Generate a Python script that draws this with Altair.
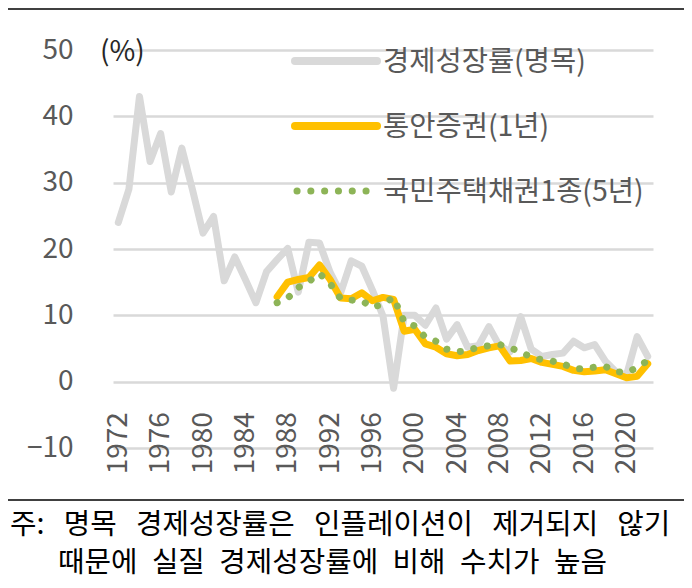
import altair as alt
import pandas as pd

years = list(range(1972, 2023))
nominal_growth = [24.0, 29.0, 43.0, 33.2, 37.4, 28.6, 35.2, 29.0, 22.4, 24.9,
                  15.2, 18.8, 15.4, 11.9, 16.6, 18.4, 20.1, 13.5, 21.0, 20.9,
                  16.5, 13.4, 18.2, 17.4, 13.8, 9.9, -1.0, 10.0, 10.0, 8.5,
                  11.1, 6.4, 8.6, 5.2, 5.4, 8.3, 5.4, 4.5, 9.8, 4.9,
                  3.8, 4.1, 4.3, 6.1, 5.1, 5.6, 3.1, 1.5, 1.0, 6.8, 3.8]
bond_years = list(range(1987, 2023))
msb_1y = [12.8, 15.0, 15.4, 15.7, 17.6, 15.4, 12.6, 12.5, 13.4, 12.2,
          12.7, 12.4, 7.6, 7.9, 5.7, 5.2, 4.2, 3.9, 4.1, 4.7,
          5.1, 5.4, 3.1, 3.2, 3.5, 2.9, 2.6, 2.3, 1.7, 1.5,
          1.6, 1.8, 1.2, 0.6, 0.8, 2.7]
housing_5y = [11.9, 12.6, 14.2, 15.1, 16.3, 14.8, 12.5, 12.3, 12.2, 11.2,
              11.7, 12.7, 9.0, 8.4, 6.7, 6.1, 4.9, 4.5, 4.7, 5.2,
              5.4, 5.6, 5.1, 4.5, 3.7, 3.3, 3.1, 2.7, 2.0, 1.9,
              2.2, 2.3, 1.5, 1.4, 2.1, 3.2]
series_names = ["경제성장률(명목)", "통안증권(1년)", "국민주택채권1종(5년)"]
x_tick_years = list(range(1972, 2021, 4))
y_ticks = [-10, 0, 10, 20, 30, 40, 50]
unit_label = "(%)"
gap1 = "\u2002\u2006"
gap2 = "\u2002"
note_line1 = gap1.join(["주:", "명목", "경제성장률은", "인플레이션이", "제거되지", "않기"])
note_line2 = gap2.join(["때문에", "실질", "경제성장률에", "비해", "수치가", "높음"])

FONT = "Noto Sans CJK KR"
GRAY = "#D9D9D9"
ORANGE = "#FFC000"
GREEN = "#8DB457"
LABEL = "#595959"
DOT_DASH = [0.1, 13.7]

df_nom = pd.DataFrame({"year": years, "value": nominal_growth})
df_msb = pd.DataFrame({"year": bond_years, "value": msb_1y})
df_house = pd.DataFrame({"year": bond_years, "value": housing_5y})

x_enc = alt.X("year:Q",
              scale=alt.Scale(domain=[1971.5, 2022.5], nice=False, zero=False),
              axis=alt.Axis(values=x_tick_years, format="d", labelAngle=270,
                            labelFontSize=28, labelColor=LABEL, labelFont=FONT,
                            domain=False, ticks=False, grid=False,
                            offset=-66.33, labelPadding=30, title=None,
                            labelOverlap=False, labelFlush=False))
y_enc = alt.Y("value:Q",
              scale=alt.Scale(domain=[-10, 50], nice=False, zero=False),
              axis=alt.Axis(values=y_ticks, labelFontSize=28, labelColor=LABEL,
                            labelFont=FONT, domain=False, ticks=False,
                            grid=True, gridColor=GRAY, gridWidth=2.5,
                            labelPadding=40, title=None))

line_nom = alt.Chart(df_nom).mark_line(color=GRAY, strokeWidth=7, strokeCap="round",
                                       strokeJoin="round").encode(x=x_enc, y=y_enc)
line_msb = alt.Chart(df_msb).mark_line(color=ORANGE, strokeWidth=7, strokeCap="round",
                                       strokeJoin="round").encode(x="year:Q", y="value:Q")
line_house = alt.Chart(df_house).mark_line(color=GREEN, strokeWidth=7, strokeCap="round",
                                           strokeJoin="round", strokeDash=DOT_DASH
                                           ).encode(x="year:Q", y="value:Q")

one = pd.DataFrame({"a": [0]})


def rule(x1, x2, y, color, width, dash=None, cap="round"):
    kw = dict(color=color, strokeWidth=width, strokeCap=cap)
    if dash is not None:
        kw["strokeDash"] = dash
    return alt.Chart(one).mark_rule(**kw).encode(
        x=alt.value(x1), x2=alt.value(x2), y=alt.value(y))


def label(txt, x, y, size=28.5, color=LABEL, align="left"):
    return alt.Chart(one).mark_text(align=align, baseline="middle", font=FONT,
                                    fontSize=size, color=color).encode(
        x=alt.value(x), y=alt.value(y), text=alt.value(txt))


legend = [
    rule(182, 264, 11, GRAY, 8),
    rule(182, 264, 76, ORANGE, 8),
    rule(184, 254, 141, GREEN, 7, dash=DOT_DASH),
    label(series_names[0], 270, 12),
    label(series_names[1], 270, 77),
    label(series_names[2], 270, 142),
]

extras = [
    label(unit_label, -13, 3, size=28, color="#262626"),
    rule(-105, 571, -41, "#000000", 1.5, cap="butt"),
    rule(-105, 571, 450, "#000000", 1.5, cap="butt"),
    label(note_line1, -103, 475, size=28.8, color="#000000"),
    label(note_line2, -55, 513, size=28.8, color="#000000"),
]

chart = alt.layer(line_nom, line_msb, line_house, *legend, *extras).properties(
    width=540, height=398,
    padding={"left": 105, "top": 42, "right": 31, "bottom": 132},
    autosize=alt.AutoSizeParams(type="none"),
).configure_view(stroke=None)

chart.save("out.html", embed_options={"renderer": "svg", "actions": False})
